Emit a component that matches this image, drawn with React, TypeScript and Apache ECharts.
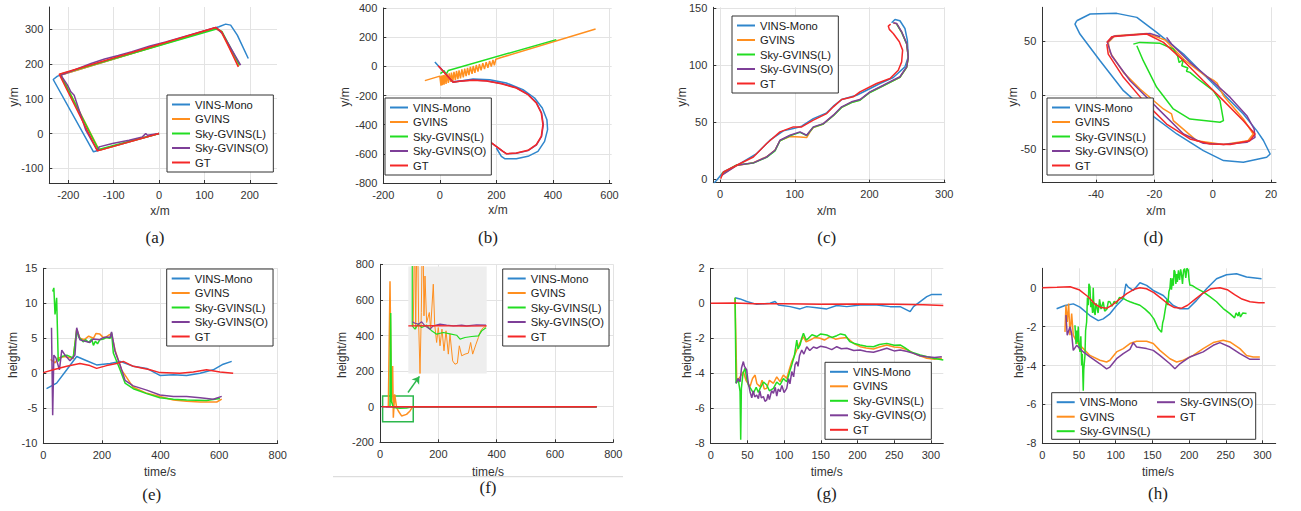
import React, { useEffect, useRef } from 'react';
import * as echarts from 'echarts';

// ---------- names / colours ----------
const NAMES = ['VINS-Mono', 'GVINS', 'Sky-GVINS(L)', 'Sky-GVINS(O)', 'GT'];
const COLORS = ['#2f86cc', '#ff8f1f', '#22dd22', '#7e3f98', '#f42828'];

// ---------- (a) x-y trajectory ----------
const aXRange = [-242, 260];
const aYRange = [-142, 363];
const aXTicks = [-200, -100, 0, 100, 200];
const aYTicks = [-100, 0, 100, 200, 300];
const aVins = [[0, 0], [-144.6, -52.6], [-233.4, 155], [-223.9, 164.6], [132.1, 306.2], [146.8, 313.9], [157.8, 311], [172.5, 282.3], [196.7, 215.3]];
const aGvins = [[0, 0], [-132, -47.8], [-216.5, 167.5], [123.3, 301.4], [136, 293], [176.1, 193.3]];
const aSkyL = [[0, 0], [-133.5, -46], [-218, 170.3], [128.4, 300.5], [139, 292], [177.6, 196.2]];
const aSkyO = [[0, 0], [-25.7, -4.8], [-29.4, 0], [-36.7, -9.6], [-66.1, -19.1], [-102.8, -28.7], [-132.1, -38.3], [-135.8, -49.8], [-161.5, 9.6], [-187.2, 110], [-194.5, 119.6], [-201.8, 138.8], [-216.5, 167.5], [-150, 201], [-120, 214], [-90, 224], [-60, 235], [-20, 251], [14.7, 263], [124.8, 304.3], [139.4, 287.1], [179.8, 196.2]];
const aGt = [[0, 0], [-135.8, -49.8], [-220.2, 170.3], [124.8, 304.3], [138, 291.9], [174.7, 191.4]];

// ---------- (b) ----------
const bXRange = [-200, 608];
const bYRange = [-800, 400];
const bXTicks = [-200, 0, 200, 400, 600];
const bYTicks = [-800, -600, -400, -200, 0, 200, 400];
const bVins = [[-17.6, 29.7], [47, -109.7], [117.6, -86.9], [176.5, -91.4], [235.3, -114.3], [294.1, -160], [335.3, -217.1], [362.4, -285.7], [378.8, -365.7], [381.2, -434.3], [370.6, -514.3], [347.1, -582.9], [311.8, -617.1], [270.6, -633.1], [229.4, -633.1], [217.6, -617.1], [200, -560]];
const bGvins = [[-53, -98], [0, -67], [4, -133], [6, -63], [9, -130], [12, -60], [15, -125], [18, -56], [22, -120], [25, -52], [30, -114], [33, -48], [38, -107], [41, -43], [46, -101], [50, -38], [55, -95], [59, -32], [64, -88], [68, -27], [73, -82], [78, -21], [83, -75], [88, -15], [93, -67], [98, -10], [103, -60], [108, -4], [114, -52], [118, 2], [124, -44], [129, 9], [135, -36], [140, 15], [146, -27], [152, 22], [158, -19], [164, 29], [170, -10], [176, 36], [182, -1], [188, 43], [193, 7], [198, 49], [220, 62], [551, 256]];
const bSkyL = [[2, -50], [15, -30], [22, -55], [30, -28], [412, 183]];
const bSkyO = [[-3, 0], [45, -106], [70, -101], [117, -94], [165, -99], [218, -117], [271, -147], [312, -192], [342, -250], [360, -320], [366, -400], [360, -481], [342, -538], [312, -578], [271, -596], [236, -600], [224, -585], [172, -510]];
const bGt = [[-5.9, 4.6], [47, -109.7], [70.6, -102.9], [117.6, -96], [164.7, -100.6], [217.6, -118.9], [270.6, -148.6], [311.8, -194.3], [341.2, -251.4], [358.8, -320], [364.7, -400], [358.8, -480], [341.2, -537.1], [311.8, -576], [270.6, -594.3], [235.3, -598.9], [223.5, -582.9], [170.6, -507.4]];

// ---------- (c) ----------
const cXRange = [-9, 301];
const cYRange = [-3, 151];
const cXTicks = [0, 100, 200, 300];
const cYTicks = [0, 50, 100, 150];
const cVins = [[-8, -3.2], [-4.5, -0.9], [4.5, 6.4], [26.7, 13.8], [49, 22.6], [66.9, 34.3], [84.7, 42.5], [98.1, 44.5], [109.2, 46.6], [124.8, 53.3], [142.7, 58.3], [151.6, 64.2], [162.7, 70], [182.8, 73.8], [196.2, 78.2], [214, 84.1], [231.8, 89.4], [247.4, 98.7], [251.9, 107.5], [250.6, 122.2], [247.4, 132.4], [240.7, 139.2], [234.1, 140.3], [229.6, 137.4]];
const cGvins = [[2.2, 4], [22.3, 12], [44.6, 14.6], [62.4, 19.8], [73.6, 25.7], [80.2, 34], [93.6, 37.5], [107, 37.2], [115.9, 36.6], [120.4, 41.6], [124.8, 45.5], [138.2, 48.6], [151.6, 56], [162.7, 63.2], [176.1, 67.6], [187.2, 69.6], [200.6, 76.4], [218.5, 82.2], [240.7, 89.6], [249.7, 98.4], [251.9, 107.2], [249.7, 119], [243, 129.3], [236.3, 136.5], [231.8, 137.2]];
const cSkyL = [[2.2, 5], [22.3, 12.6], [44.6, 14.2], [62.4, 19.2], [73.6, 25], [80.2, 33.8], [93.6, 38.2], [107, 41.2], [115.9, 38.4], [124.8, 45.6], [138.2, 48.5], [151.6, 55.8], [162.7, 63.1], [176.1, 67.4], [187.2, 69.4], [200.6, 76.2], [218.5, 82], [240.7, 89.5], [249.7, 98.2], [251.9, 107], [249.7, 118.8], [243, 129], [236.3, 136.3]];
const cSkyO = [[2.2, 3.5], [22.3, 12.3], [44.6, 14.4], [62.4, 19.6], [73.6, 25.5], [80.2, 34.3], [93.6, 38.7], [107, 41.6], [115.9, 38.7], [124.8, 46], [138.2, 48.9], [151.6, 56.3], [162.7, 63.6], [176.1, 68], [187.2, 70], [200.6, 76.8], [218.5, 82.6], [240.7, 90], [249.7, 98.7], [251.9, 107.5], [249.7, 119.2], [243, 129.5], [236.3, 136.8], [231.8, 137.4]];
const cGt = [[0.9, 0.6], [4.5, 6.4], [22.3, 12.3], [44.6, 19.6], [62.4, 31.4], [80.2, 41.6], [98.1, 46], [109.2, 46], [124.8, 51.9], [142.7, 57.7], [151.6, 63.6], [162.7, 70], [178.3, 72.4], [187.2, 76.8], [209.5, 84.1], [227.4, 88.5], [238.5, 95.8], [243, 103.1], [244.3, 113.4], [239.9, 120.7], [231.8, 128], [226.5, 131.6], [225.1, 134.5], [228.3, 136.2]];

// ---------- (d) ----------
const dXRange = [-58.4, 21.7];
const dYRange = [-81, 81];
const dXTicks = [-40, -20, 0, 20];
const dYTicks = [-50, 0, 50];
const dVins = [[-46.6, 68.6], [-42, 74.8], [-32.9, 75.4], [-26, 71.7], [-19.2, 57.8], [-10, 37.8], [-3.2, 19.4], [3.7, 0.9], [10.5, -17.5], [15.1, -32.9], [17.4, -42], [19.7, -54.5], [18.5, -57.5], [10.5, -62.2], [3.7, -60.6], [-3.2, -51.4], [-12.3, -36], [-21.5, -17.5], [-30.6, 4], [-38.6, 31.7], [-45.5, 56.3], [-47.2, 65.5], [-46.6, 68.6]];
const dGvins = [[-35.8, 48.6], [-33.5, 54.8], [-22.6, 56.9], [-16.3, 50.8], [-9.4, 31.7], [-2.6, 17.8], [0.5, 13.2], [1.5, 11], [3.7, -0.6], [10.5, -22.2], [13.9, -36], [12.1, -42.2], [3.7, -45.8], [-5.5, -42.2], [-13.5, -23.7], [-14.1, -17.5], [-16.9, -12.9], [-24.9, 5.5], [-30.6, 20.9], [-35.2, 39.4], [-35.8, 48.6]];
const dSkyL = [[-27.2, 47], [-25, 48.6], [-18, 47.7], [-13.5, 42.5], [-12, 36], [-11.5, 30], [-10, 33], [-10.6, 27], [-8.5, 25], [-9, 22], [-7.8, 20.9], [-4.3, 13.2], [0.2, 4], [2.5, -5.2], [3.7, -23.7], [2.5, -25.2], [-7.8, -22.2], [-13.5, -12.9], [-19.2, 7.1], [-23.8, 31.7], [-26, 45.5]];
const dSkyO = [[-15.8, 53.2], [-14.1, 47.1], [-7.8, 30.2], [-0.9, 14.8], [6, -2.2], [11.7, -19.1], [14.2, -31.4], [14.5, -39.1], [11.7, -43.7], [3.7, -45.8], [-3.2, -44.6], [-10, -36], [-19.2, -11.4], [-28.3, 13.2], [-34.6, 36.3], [-36.1, 48.6], [-34, 54.2], [-28.3, 55.4], [-21.5, 56.9], [-18, 53.8]];
const dGt = [[-36.3, 48.6], [-34.6, 53.8], [-30.6, 54.8], [-22.6, 56.3], [-16.9, 48.6], [-10, 31.7], [-3.2, 13.2], [3.7, -5.2], [10.5, -23.7], [14.5, -36], [12.7, -42.2], [6, -45.8], [-0.9, -45.2], [-7.8, -40.6], [-15.8, -26.8], [-23.8, -5.2], [-30.6, 16.3], [-35.8, 37.8], [-36.3, 47]];

// ---------- (e) height ----------
const eXRange = [0, 800];
const eYRange = [-10, 15];
const eXTicks = [0, 200, 400, 600, 800];
const eYTicks = [-10, -5, 0, 5, 10, 15];
const eVins = [[11, -2.2], [45.5, -1.4], [80, 0.5], [114, 2.4], [148, 1.8], [182, 1.2], [228, 1.4], [262, 1.7], [307, 1], [353, 0.7], [398, -0.3], [444, -0.2], [489, -0.3], [535, 0], [580, 0.5], [614, 1.3], [643, 1.7]];
const eGvins = [[25, 2], [40, 1.5], [51, 2.2], [74, 2.4], [102, 2.1], [114, 6.3], [125, 5.0], [140, 4.8], [155, 5.3], [171, 5], [180, 5.7], [193, 5.6], [205, 5.1], [215, 5.2], [225, 5.5], [233, 5.6], [245, 3.3], [267, 0.5], [307, -2], [350, -2.8], [398, -3.3], [444, -3.8], [489, -4], [535, -4.1], [592, -4.1], [609, -3.7]];
const eSkyL = [[32, 11.7], [36, 12.2], [40, 8.4], [45.5, 10.8], [51, 1.7], [63, 2.4], [80, 2.6], [102, 2.2], [114, 6.2], [120, 5.2], [128, 4.9], [136, 4.5], [145, 4.8], [155, 4.4], [165, 4.9], [171, 4.0], [178, 4.6], [185, 4.2], [193, 4.8], [205, 4.9], [215, 5.1], [228, 5], [233, 5.8], [239, 2.9], [262, 0.5], [279, -1.4], [307, -2.2], [353, -2.9], [398, -3.5], [444, -3.7], [489, -3.8], [557, -3.9], [603, -3.6]];
const eSkyO = [[28, 6.5], [32, -6], [36, 2.6], [43, 2.2], [55, 0.5], [63, 3.3], [74, 2.6], [91, 1.8], [108, 2.6], [114, 6.5], [125, 4.8], [140, 4.6], [159, 4.4], [170, 4.9], [193, 4.8], [200, 5], [215, 5.2], [228, 5.1], [233, 5.9], [245, 3.1], [262, 1.2], [279, -1], [307, -1.8], [353, -2.4], [398, -3.1], [444, -3.3], [489, -3.3], [535, -3.5], [580, -3.7], [609, -3.3]];
const eGt = [[0, 0.1], [34, 0.5], [80, 1], [125, 1.4], [159, 1.1], [182, 0.7], [216, 1.1], [250, 1.4], [273, 1.7], [307, 1], [364, 0.5], [398, 0.1], [466, 0], [512, 0.2], [557, 0.5], [603, 0.2], [648, 0]];

// ---------- (f) ----------
const fXRange = [0, 800];
const fYRange = [-200, 800];
const fXTicks = [0, 200, 400, 600, 800];
const fYTicks = [-200, 0, 200, 400, 600, 800];
const fVins = [[6, 0], [743, 0]];
const fGvins = [[28.6, 0], [34.3, 705], [38.9, 32], [43.4, 228], [45.7, -62], [50.3, 69], [57, -5], [62.9, -24], [74, -52], [91, -43], [102.9, -24], [112, 0], [743, 0]];
const fSkyL = [[34.3, 0], [36.6, 527], [38.9, 32], [45.7, -5], [68.6, -9], [91, -7], [112, 0], [743, 0]];
const fSkyO = [[20, 0], [743, 0]];
const fGt = [[6, 0], [200, 0], [400, 0], [600, 0], [743, 0]];
const fZoomBox = [[9, 60], [114, -84]];
const fArrow = [[96, 80], [135, 170]];
// inset (zoomed window of (f))
const insXRange = [30, 115];
const insYRange = [-40, 50];
const insGvins = [[35.4, 0.1], [36.9, 90], [38, -2.7], [39.8, 100], [41.2, 2.9], [42.7, -40], [44.1, 11.3], [45.6, 100], [47, 8.5], [48.1, 42], [49.9, 2.9], [52.8, 11.3], [54.2, -2.7], [57.1, 35.1], [58.6, 1.5], [60.7, -13.9], [62.5, -1.3], [64.4, -16.7], [66.5, -2.7], [68.7, -20.9], [70.9, -4.1], [73.4, -23.7], [75.2, -6.9], [78.1, -29.4], [80.6, -32.2], [83.2, -31.3], [85.3, -16.7], [87.9, -25.1], [91.5, -23.7], [95.1, -22.9], [97.6, -13.9], [99.8, -23.7], [103.4, -15.3], [106, -9.7], [108.5, -4.1], [111.4, -1.3], [114.3, -0.5]];
const insSkyL = [[34.3, 90], [34.3, 0.1], [37.2, -2.7], [40.9, 1.5], [44.5, -1.3], [49.9, 0.7], [55.3, -4.1], [60.7, -6.9], [68, -5.5], [75.2, -6.6], [82.4, -7.8], [86.1, -11.1], [91.5, -9.7], [98.7, -8.9], [106, -8.3], [109.6, -4.1], [114.3, -1.6]];
const insSkyO = [[34.3, 3.5], [37.2, 2.3], [40.9, 1.5], [44.5, 3.5], [48.1, 0.1], [53.5, -2.7], [57.1, 0.1], [64.4, 1.5], [71.6, 0.7], [78.8, 0.1], [87.9, 0.7], [93.3, 0.1], [104.1, 0.9], [114.3, 0.7]];
const insGt = [[30, 0], [60, 0.3], [90, -0.2], [115, 0]];

// ---------- (g) ----------
const gXRange = [0, 317];
const gYRange = [-8, 2];
const gXTicks = [0, 50, 100, 150, 200, 250, 300];
const gYTicks = [-8, -6, -4, -2, 0, 2];
const gVins = [[33.2, 0.32], [40, 0.25], [49.1, 0.1], [62.7, -0.06], [80.9, 0], [87.7, 0.1], [92.3, -0.1], [108.2, -0.19], [121.8, -0.32], [130.9, -0.19], [144.5, -0.25], [158.2, -0.32], [171.8, -0.13], [185.5, -0.19], [203.6, -0.1], [226.4, -0.1], [244.5, -0.19], [258.2, -0.19], [271.8, -0.48], [276.4, -0.19], [285.5, 0.1], [294.5, 0.38], [301.4, 0.51], [315, 0.51]];
const gGvins = [[33.2, 0.32], [35.5, -4.48], [40, -4.2], [44.5, -3.9], [48, -4.4], [53.6, -4.76], [57, -4.3], [60.5, -4.1], [63, -4.6], [67.3, -4.76], [70, -4.4], [73, -4.9], [76.4, -4.86], [80, -4.4], [85.5, -4.57], [90, -4.2], [94.5, -4.48], [99, -4.1], [103.6, -4.29], [107, -3.8], [110.5, -3.33], [114, -3.0], [117.3, -2.67], [121, -2.3], [126.4, -1.9], [130, -2.2], [135.5, -2.1], [142, -1.95], [149.1, -2], [155, -2.1], [162.7, -1.9], [170, -2.05], [176.4, -2], [185.5, -1.96], [195, -2.3], [203.6, -2.48], [212, -2.55], [221.8, -2.61], [230, -2.5], [240, -2.38], [250, -2.5], [258.2, -2.53], [268, -2.65], [276.4, -2.86], [285, -3.0], [294.5, -3.14], [305, -3.2], [315, -3.14]];
const gSkyL = [[33.2, 0.32], [34.5, -4.57], [37.7, -4.38], [40, -5.05], [40.9, -7.8], [41.8, -4.86], [44, -4.0], [46.8, -3.71], [49, -4.3], [51.4, -4.67], [55, -4.9], [58.2, -5.14], [62, -4.8], [65, -5.1], [67.3, -4.86], [72, -4.5], [76.4, -4.67], [80, -5.0], [85.5, -4.86], [90, -4.5], [94.5, -4.67], [99, -4.3], [103.6, -4.48], [107, -4.0], [110.5, -3.52], [114, -3.0], [117.3, -2.1], [119, -2.6], [121.8, -2.38], [124, -2.0], [126.4, -1.71], [130, -2.1], [133.2, -2], [138, -1.8], [144.5, -1.9], [150, -1.75], [158.2, -1.81], [165, -1.95], [171.8, -1.85], [177, -1.75], [183.2, -1.81], [189.5, -2.19], [196, -2.3], [203.6, -2.38], [212, -2.45], [221.8, -2.48], [230, -2.35], [240, -2.29], [250, -2.4], [258.2, -2.38], [265, -2.55], [271.8, -2.76], [285.5, -2.95], [295, -3.05], [303.6, -3.14], [317, -3.24]];
const gSkyO = [[34.5, -4.57], [37, -4.3], [40, -4.48], [42, -3.7], [44.5, -3.33], [46, -3.6], [49.1, -3.81], [51, -4.5], [53.6, -5.05], [56, -5.4], [58, -5.0], [60, -5.35], [62.7, -5.24], [65, -5.45], [67, -5.0], [69, -5.4], [71.8, -5.33], [74, -5.6], [76.4, -5.52], [78, -5.2], [80, -5.5], [83, -5.0], [85.5, -5.14], [88, -4.8], [90, -5.3], [92, -4.9], [94.5, -5.05], [97, -4.7], [100, -5.1], [103.6, -4.86], [106, -4.3], [108, -4.6], [110.5, -3.9], [113, -4.2], [115, -3.5], [117.3, -3.33], [119, -3.6], [121, -3.0], [124.1, -2.67], [127, -2.9], [130.9, -2.48], [135, -2.7], [140, -2.5], [144.5, -2.57], [150, -2.45], [158.2, -2.53], [165, -2.65], [171.8, -2.48], [178, -2.6], [185.5, -2.57], [195, -2.7], [203.6, -2.67], [212, -2.75], [221.8, -2.8], [230, -2.7], [240, -2.57], [250, -2.72], [258.2, -2.67], [268, -2.75], [276.4, -2.86], [285, -3.0], [294.5, -3.05], [305, -3.1], [315, -3.05]];
const gGt = [[0, 0], [33, 0.02], [60, -0.02], [100, -0.03], [150, -0.05], [200, -0.04], [250, -0.05], [290, -0.08], [317, -0.12]];

// ---------- (h) ----------
const hXRange = [0, 318];
const hYRange = [-8, 1];
const hXTicks = [0, 50, 100, 150, 200, 250, 300];
const hYTicks = [-8, -6, -4, -2, 0];
const hVins = [[19.5, -1.08], [30.9, -0.91], [42.2, -0.83], [51.3, -1.0], [64.9, -1.43], [76.3, -1.69], [83, -1.6], [92.1, -1.34], [101.2, -0.91], [110.3, -0.57], [114, 0.2], [117.1, 0.03], [123.9, -0.14], [133, 0.26], [142.1, 0.12], [151.2, -0.14], [164.8, -0.4], [178.4, -0.91], [187.5, -1.08], [198.8, -1.08], [210.2, -0.65], [223.8, -0.05], [237.4, 0.46], [251, 0.67], [264.6, 0.72], [278.3, 0.55], [298.7, 0.46]];
const hGvins = [[30.9, -2.27], [32.2, -0.9], [34, -1.76], [35.9, -0.81], [37.7, -2.44], [40, -1.33], [42.2, -2.44], [46.8, -2.79], [55.8, -3.13], [64.9, -3.48], [78.5, -3.73], [87.6, -3.82], [92.1, -3.73], [101.2, -3.3], [110.3, -3.13], [119.4, -2.87], [128.5, -2.75], [142.1, -2.75], [151.2, -2.87], [160.2, -3.22], [173.9, -3.65], [183, -3.82], [192.1, -3.73], [205.6, -3.48], [219.2, -3.13], [232.9, -2.82], [246.5, -2.7], [255.6, -2.79], [269.2, -3.13], [278.3, -3.48], [287.3, -3.56], [296.4, -3.56]];
const hSkyL = [[44.5, -1.93], [46, -2.9], [46.8, -2.2], [48, -2.8], [49, -2.0], [50, -3.0], [51.3, -3.3], [52.5, -2.5], [53.6, -4.0], [54.5, -3.4], [55.8, -5.3], [56.5, -4.2], [58.1, -3.5], [59, -2.2], [60.4, -1.76], [61.5, -0.5], [62.6, -0.9], [63.5, 0.2], [64.9, 0.05], [66, -1.0], [67.2, -0.72], [68.5, -1.3], [69.4, 0], [70.5, -1.2], [72, -1.4], [73, -0.8], [74, -0.9], [76, -1.3], [78, -0.6], [80, -1.1], [83, -0.72], [85, -1.2], [88, -1.1], [90, -0.7], [92.1, -0.72], [95, -0.95], [98, -0.7], [101.2, -0.81], [105, -0.5], [110.3, -0.55], [115, -0.65], [119.4, -0.72], [125, -0.8], [133, -0.9], [140, -1.1], [146.6, -1.33], [152, -1.6], [158, -2.1], [162.5, -2.29], [164, -1.8], [165.5, -1.6], [167, -1.24], [168.5, -0.9], [170, -0.6], [171, -0.9], [172.5, -0.2], [173.9, -0.03], [175, 0.5], [176, -0.1], [177.5, 0.48], [178.5, 0.1], [179.5, 0.9], [180.7, 0.83], [182, 0.2], [183, 0.7], [184, 0.3], [185.5, 0.9], [187, 0.4], [188.5, 0.95], [189.8, 0.65], [191, 0.2], [192.5, 0.9], [194, 0.98], [195.5, 0.5], [197, 1.0], [198.8, 0.91], [200, 0.4], [201.1, 0.14], [205, 0.1], [210.2, -0.03], [219.2, -0.21], [228.3, -0.46], [237.4, -0.72], [246.5, -1.07], [255.6, -1.33], [262, -1.55], [264, -1.3], [266.9, -1.45], [268, -1.25], [270, -1.5], [273, -1.3], [278.3, -1.33]];
const hSkyO = [[32.2, -1.41], [34, -2.44], [37.7, -2.0], [40, -2.36], [42.2, -3.22], [46.8, -2.96], [55.8, -3.3], [64.9, -3.56], [78.5, -3.91], [87.6, -4.17], [92.1, -4.08], [101.2, -3.65], [110.3, -3.39], [119.4, -3.17], [123.9, -2.82], [128.5, -3.05], [142.1, -3.13], [151.2, -3.22], [160.2, -3.48], [173.9, -3.91], [180.7, -4.17], [187.5, -3.91], [201.1, -3.56], [219.2, -3.3], [232.9, -2.96], [242, -2.82], [255.6, -3.05], [269.2, -3.39], [283, -3.68], [296.4, -3.68]];
const hGt = [[0, 0], [20, 0.02], [38, 0.05], [50, -0.1], [62, -0.45], [72, -0.85], [80, -1.02], [88, -1.05], [95, -0.9], [105, -0.6], [115, -0.3], [125, -0.08], [133, 0], [142, -0.05], [152, -0.25], [162, -0.55], [172, -0.85], [180, -1.02], [190, -1.05], [198, -0.9], [208, -0.6], [218, -0.3], [230, -0.05], [242, 0], [252, -0.1], [262, -0.35], [272, -0.58], [283, -0.72], [295, -0.77], [303, -0.77]];

// ---------- layout ----------
const FONT = 'Liberation Sans, Arial, Helvetica, sans-serif';
const SERIF = 'Liberation Serif, Times New Roman, serif';
const AXIS = '#333333';
const GRIDC = '#e3e3e3';

const PANELS = [
  { grid: { left: 49.3, top: 7, width: 227.7, height: 176 }, x: aXRange, y: aYRange, xt: aXTicks, yt: aYTicks, s: [aVins, aGvins, aSkyL, aSkyO, aGt], lg: [167, 95], xn: ['x/m', 160, 211], yn: ['y/m', 14, 97], cap: ['(a)', 155, 237] },
  { grid: { left: 383.3, top: 8, width: 228.4, height: 175 }, x: bXRange, y: bYRange, xt: bXTicks, yt: bYTicks, s: [bVins, bGvins, bSkyL, bSkyO, bGt], lg: [385, 98], xn: ['x/m', 498, 210], yn: ['y/m', 345, 97], cap: ['(b)', 488, 237] },
  { grid: { left: 713.3, top: 7.3, width: 231.7, height: 175.4 }, x: cXRange, y: cYRange, xt: cXTicks, yt: cYTicks, s: [cVins, cGvins, cSkyL, cSkyO, cGt], lg: [732, 16], xn: ['x/m', 826.7, 210.7], yn: ['y/m', 681.7, 97], cap: ['(c)', 826.7, 237.3] },
  { grid: { left: 1042.3, top: 7.3, width: 233.7, height: 175.4 }, x: dXRange, y: dYRange, xt: dXTicks, yt: dYTicks, s: [dVins, dGvins, dSkyL, dSkyO, dGt], lg: [1047, 98], xn: ['x/m', 1156, 210.7], yn: ['y/m', 1013.3, 97], cap: ['(d)', 1153.3, 237.3] },
  { grid: { left: 43.3, top: 268.3, width: 234.4, height: 175 }, x: eXRange, y: eYRange, xt: eXTicks, yt: eYTicks, s: [eVins, eGvins, eSkyL, eSkyO, eGt], lg: [166.7, 269], xn: ['time/s', 160, 471.7], yn: ['height/m', 12.7, 355], cap: ['(e)', 151.7, 494.3] },
  { grid: { left: 380, top: 264.3, width: 233.3, height: 178 }, x: fXRange, y: fYRange, xt: fXTicks, yt: fYTicks, s: [fVins, fGvins, fSkyL, fSkyO, fGt], lg: [502.7, 269], xn: ['time/s', 488, 472.3], yn: ['height/m', 341.7, 355], cap: ['(f)', 488, 487.7] },
  { grid: { left: 710.7, top: 268.3, width: 232.6, height: 175 }, x: gXRange, y: gYRange, xt: gXTicks, yt: gYTicks, s: [gVins, gGvins, gSkyL, gSkyO, gGt], lg: [825, 362.3], xn: ['time/s', 826.7, 471.7], yn: ['height/m', 686.7, 355], cap: ['(g)', 826.7, 493.3] },
  { grid: { left: 1042.3, top: 268.3, width: 233.4, height: 175 }, x: hXRange, y: hYRange, xt: hXTicks, yt: hYTicks, s: [hVins, hGvins, hSkyL, hSkyO, hGt], lg: null, xn: ['time/s', 1158, 471.7], yn: ['height/m', 1019.3, 355], cap: ['(h)', 1158, 493.3] },
];

function axisOpt(gi: number, range: number[], ticks: number[]) {
  return {
    type: 'value', gridIndex: gi, min: range[0], max: range[1],
    axisLine: { show: true, onZero: false, lineStyle: { color: AXIS, width: 1 } },
    axisTick: { show: true, inside: true, length: 3, customValues: ticks, lineStyle: { color: AXIS } },
    axisLabel: { customValues: ticks, fontSize: 11, color: '#333', fontFamily: FONT, margin: 6 },
    splitLine: { show: true, lineStyle: { color: GRIDC, width: 1 } },
  };
}

function legendOpt(left: number, top: number, names: string[], border: boolean) {
  return {
    orient: 'vertical', left, top, data: names, icon: 'rect', itemWidth: 18, itemHeight: 2, itemGap: 3.5,
    padding: [4, 5, 4, 5], borderColor: border ? '#333' : 'transparent', borderWidth: border ? 1 : 0,
    backgroundColor: border ? '#fff' : 'transparent', selectedMode: false,
    textStyle: { fontSize: 11.2, color: '#1a1a1a', fontFamily: FONT },
  };
}

function lineSeries(name: string, data: number[][], idx: number, color: string, extra: any = {}) {
  return {
    type: 'line', name, data, xAxisIndex: idx, yAxisIndex: idx, showSymbol: false, symbol: 'none',
    lineStyle: { color, width: 1.5 }, itemStyle: { color }, clip: true, silent: true, ...extra,
  };
}

function buildOption() {
  const grids: any[] = [];
  const xAxes: any[] = [];
  const yAxes: any[] = [];
  const series: any[] = [];
  const legends: any[] = [];
  const graphics: any[] = [];

  PANELS.forEach((p, i) => {
    grids.push({ ...p.grid, containLabel: false });
    xAxes.push(axisOpt(i, p.x, p.xt));
    yAxes.push(axisOpt(i, p.y, p.yt));
    p.s.forEach((d, k) => {
      let extra: any = {};
      if (i === 5 && k === 4) {
        extra = {
          markArea: {
            silent: true,
            itemStyle: { color: 'rgba(0,0,0,0)', borderColor: '#2db84d', borderWidth: 1.5 },
            data: [[{ coord: fZoomBox[0] }, { coord: fZoomBox[1] }]],
          },
          markLine: {
            silent: true, symbol: ['none', 'arrow'], symbolSize: 7,
            lineStyle: { color: '#2db84d', width: 1.5, type: 'solid' }, label: { show: false },
            data: [[{ coord: fArrow[0] }, { coord: fArrow[1] }]],
          },
        };
      }
      series.push(lineSeries(NAMES[k], d, i, COLORS[k], extra));
    });
    if (p.lg) legends.push(legendOpt(p.lg[0], p.lg[1], NAMES, true));
    graphics.push({ type: 'text', x: p.xn[1], y: p.xn[2], style: { text: p.xn[0], fontSize: 12, fontFamily: FONT, fill: '#333', align: 'center', verticalAlign: 'middle' } });
    graphics.push({ type: 'text', x: p.yn[1], y: p.yn[2], rotation: Math.PI / 2, style: { text: p.yn[0], fontSize: 12, fontFamily: FONT, fill: '#333', align: 'center', verticalAlign: 'middle' } });
    graphics.push({ type: 'text', x: p.cap[1], y: p.cap[2], style: { text: p.cap[0], fontSize: 17, fontFamily: SERIF, fill: '#222', align: 'center', verticalAlign: 'middle' } });
  });

  // inset grid of (f)
  grids.push({ left: 408.3, top: 266.5, width: 78.4, height: 107, show: true, backgroundColor: '#eeeeee', borderWidth: 0, z: 1 });
  xAxes.push({ type: 'value', gridIndex: 8, min: insXRange[0], max: insXRange[1], show: false });
  yAxes.push({ type: 'value', gridIndex: 8, min: insYRange[0], max: insYRange[1], show: false });
  series.push(lineSeries(NAMES[1], insGvins, 8, COLORS[1], { lineStyle: { color: COLORS[1], width: 1 } }));
  series.push(lineSeries(NAMES[2], insSkyL, 8, COLORS[2], { lineStyle: { color: COLORS[2], width: 1.2 } }));
  series.push(lineSeries(NAMES[3], insSkyO, 8, COLORS[3], { lineStyle: { color: COLORS[3], width: 1.2 } }));
  series.push(lineSeries(NAMES[4], insGt, 8, COLORS[4], { lineStyle: { color: COLORS[4], width: 1.2 } }));

  // (h) two-column legend
  legends.push(legendOpt(1051.7, 392.7, NAMES.slice(0, 3), false));
  legends.push(legendOpt(1152, 392.7, NAMES.slice(3), false));
  graphics.push({ type: 'rect', z: 3, shape: { x: 1051.7, y: 392.7, width: 204, height: 46.6 }, style: { fill: '#fff', stroke: '#333', lineWidth: 1 } });

  // faint frame line under (f)
  graphics.push({ type: 'line', shape: { x1: 333, y1: 476.7, x2: 623, y2: 476.7 }, style: { stroke: '#d6d6d6', lineWidth: 1 } });

  return {
    animation: false,
    backgroundColor: '#fff',
    grid: grids, xAxis: xAxes, yAxis: yAxes, series, legend: legends, graphic: graphics,
  };
}

export default function App() {
  const ref = useRef<HTMLDivElement>(null);
  useEffect(() => {
    const chart = echarts.init(ref.current as HTMLDivElement, null, { renderer: 'svg' });
    chart.setOption(buildOption() as any);
    return () => chart.dispose();
  }, []);
  return <div ref={ref} style={{ position: 'absolute', left: 0, top: 0, width: 1301, height: 511, background: '#fff' }} />;
}
